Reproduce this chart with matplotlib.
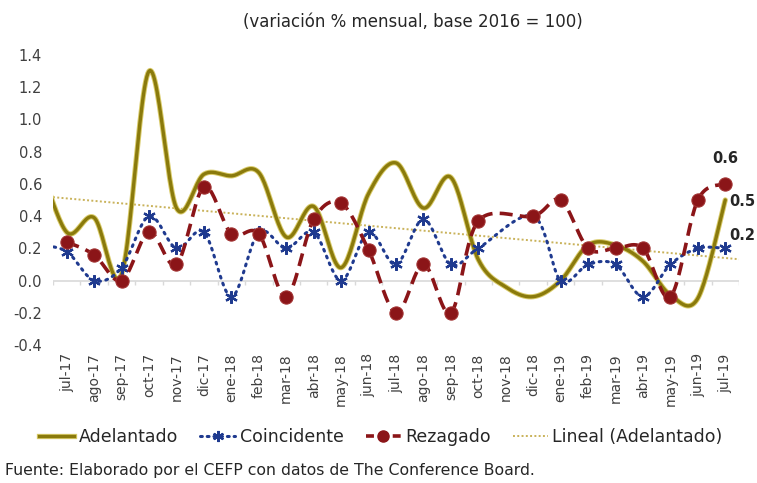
import numpy as np
import matplotlib
matplotlib.use("Agg")
import matplotlib.pyplot as plt
from matplotlib.lines import Line2D
import matplotlib.patheffects as pe

categories = ["jul-17", "ago-17", "sep-17", "oct-17", "nov-17", "dic-17", "ene-18", "feb-18",
              "mar-18", "abr-18", "may-18", "jun-18", "jul-18", "ago-18", "sep-18", "oct-18",
              "nov-18", "dic-18", "ene-19", "feb-19", "mar-19", "abr-19", "may-19", "jun-19", "jul-19"]

adelantado = [0.30, 0.39, 0.04, 1.30, 0.45, 0.66, 0.65, 0.67, 0.27, 0.46, 0.08, 0.54, 0.73,
              0.45, 0.64, 0.13, -0.04, -0.10, 0.00, 0.22, 0.22, 0.12, -0.09, -0.11, 0.50]
coincidente = [0.18, 0.00, 0.08, 0.40, 0.20, 0.30, -0.10, 0.30, 0.20, 0.30, 0.00, 0.30, 0.10,
               0.38, 0.10, 0.20, np.nan, 0.40, 0.00, 0.10, 0.10, -0.10, 0.10, 0.20, 0.20]
rezagado = [0.24, 0.16, 0.00, 0.30, 0.10, 0.58, 0.29, 0.29, -0.10, 0.38, 0.48, 0.19, -0.20,
            0.10, -0.20, 0.37, np.nan, 0.40, 0.50, 0.20, 0.20, 0.20, -0.10, 0.50, 0.60]
# previous month (jun-17), only visible as the line entering at the left edge
adelantado_prev = 0.74
coincidente_prev = 0.22
# linear trend of Adelantado as read at the first and last category
lineal_ends = [0.51, 0.14]

title = "(variación % mensual, base 2016 = 100)"
source = "Fuente: Elaborado por el CEFP con datos de The Conference Board."

plt.rcParams["font.family"] = ["DejaVu Sans"]

GOLD = "#8A7A0C"
GOLD_GLOW = "#D9CB6A"
BLUE = "#1F3A8F"
RED = "#8B1518"
TREND = "#C9B25A"


def smooth(xs, ys, n=24):
    xs = np.asarray(xs, float)
    ys = np.asarray(ys, float)
    m = ~np.isnan(ys)
    xs, ys = xs[m], ys[m]
    P = np.column_stack([xs, ys])
    P = np.vstack([P[0], P, P[-1]])
    out = []
    for i in range(1, len(P) - 2):
        p0, p1, p2, p3 = P[i - 1], P[i], P[i + 1], P[i + 2]
        t = np.linspace(0, 1, n, endpoint=False)[:, None]
        c1 = p1 + (p2 - p0) / 6.0
        c2 = p2 - (p3 - p1) / 6.0
        seg = ((1 - t) ** 3) * p1 + 3 * ((1 - t) ** 2) * t * c1 + 3 * (1 - t) * t ** 2 * c2 + t ** 3 * p2
        out.append(seg)
    out.append(P[-2][None, :])
    out = np.vstack(out)
    return out[:, 0], out[:, 1]


fig = plt.figure(figsize=(7.57, 4.83), dpi=100)
W, H = 757, 483
ax = fig.add_axes([53 / W, (H - 345) / H, (739 - 53) / W, (345 - 55) / H])

n = len(categories)
x = np.arange(n)
xprev = np.concatenate([[-1], x])

# zero line with category boundary ticks
ax.axhline(0, color="#D9D9D9", lw=1.2, zorder=1)
ax.vlines(np.arange(n + 1) - 0.5, -0.03, 0, color="#D9D9D9", lw=1.0, zorder=1)

# trend line (Lineal Adelantado)
coef = np.polyfit([0, n - 1], lineal_ends, 1)
xt = np.array([-0.5, n - 0.5])
ax.plot(xt, np.polyval(coef, xt), color=TREND, lw=1.4, ls=(0, (1, 1.2)), zorder=2)

# Adelantado
sx, sy = smooth(xprev, [adelantado_prev] + adelantado)
ax.plot(sx, sy, color=GOLD, lw=2.4, zorder=3, solid_capstyle="round",
        path_effects=[pe.Stroke(linewidth=3.8, foreground=GOLD_GLOW), pe.Normal()])

# Coincidente
sx, sy = smooth(xprev, [coincidente_prev] + coincidente)
ax.plot(sx, sy, color=BLUE, lw=2.2, ls=(0, (0.6, 1.8)), dash_capstyle="round", zorder=4)
ax.plot(x, coincidente, ls="none", marker=(6, 2, 0), ms=9, mew=1.6, color=BLUE, zorder=5)

# Rezagado
sx, sy = smooth(x, rezagado)
ax.plot(sx, sy, color=RED, lw=2.6, ls=(0, (3.6, 2.0)), zorder=6)
ax.plot(x, rezagado, ls="none", marker="o", ms=9.5, mfc=RED, mec="#A03030", mew=0.8, zorder=7)

# data labels on last point
lbl = dict(fontsize=10.5, fontweight="bold", color="#262626", zorder=8)
ax.annotate(f"{rezagado[-1]:.1f}", (x[-1], rezagado[-1]), xytext=(0, 13), textcoords="offset points",
            ha="center", va="bottom", **lbl)
ax.annotate(f"{adelantado[-1]:.1f}", (x[-1], adelantado[-1]), xytext=(3, -1), textcoords="offset points",
            ha="left", va="center", **lbl)
ax.annotate(f"{coincidente[-1]:.1f}", (x[-1], coincidente[-1]), xytext=(3, 9), textcoords="offset points",
            ha="left", va="center", **lbl)

ax.set_xlim(-0.5, n - 0.5)
ax.set_ylim(-0.4, 1.4)
yt = np.round(np.arange(-0.4, 1.41, 0.2), 1)
ax.set_yticks(yt)
ax.set_yticklabels([f"{v:.1f}" for v in yt], fontsize=10.5, color="#404040")
ax.set_xticks(x)
ax.set_xticklabels(categories, rotation=90, fontsize=10, color="#404040", va="top", ha="center")
ax.tick_params(axis="both", length=0)
ax.tick_params(axis="y", pad=8)
ax.tick_params(axis="x", pad=6)
for s in ax.spines.values():
    s.set_visible(False)

handles = [
    Line2D([], [], color=GOLD, lw=2.4, path_effects=[pe.Stroke(linewidth=3.8, foreground=GOLD_GLOW), pe.Normal()]),
    Line2D([], [], color=BLUE, lw=2.2, ls=(0, (0.6, 1.6)), dash_capstyle="round", marker=(6, 2, 0), ms=8, mew=1.5),
    Line2D([], [], color=RED, lw=2.6, ls=(0, (2.2, 1.5)), marker="o", ms=8, mfc=RED, mec=RED),
    Line2D([], [], color=TREND, lw=1.4, ls=(0, (1, 1.2))),
]
labels = ["Adelantado", "Coincidente", "Rezagado", "Lineal (Adelantado)"]
fig.legend(handles, labels, loc="center", bbox_to_anchor=(381 / W, 1 - 437 / H), ncol=4, frameon=False,
           fontsize=12.5, handlelength=2.0, handletextpad=0.25, columnspacing=1.3, labelcolor="#262626")

fig.text(413 / W, 1 - 22 / H, title, ha="center", va="center", fontsize=12, color="#262626")
fig.text(5 / W, 1 - 470 / H, source, ha="left", va="center", fontsize=11.3, color="#262626")

fig.savefig("out.png", dpi=100, facecolor="white")
